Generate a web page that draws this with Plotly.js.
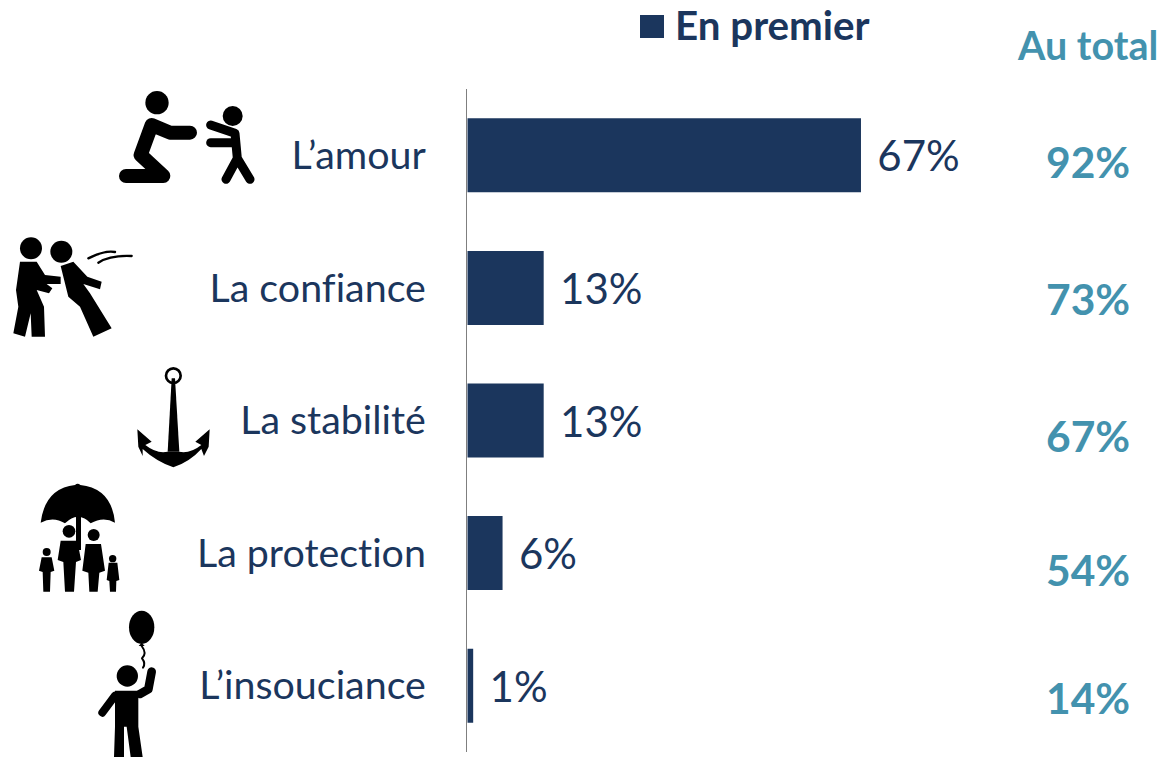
<!DOCTYPE html>
<html>
<head>
<meta charset="utf-8">
<script src="https://cdn.plot.ly/plotly-3.0.1.min.js"></script>
<style>html,body{margin:0;padding:0;background:#fff;overflow:hidden}#chart{width:1163px;height:757px}
svg text{font-variant-ligatures:none;font-feature-settings:"liga" 0,"clig" 0}</style>
</head>
<body>
<div id="chart"></div>
<script>
const categories = ["L’amour", "La confiance", "La stabilité", "La protection", "L’insouciance"];
const firstValues = [67, 13, 13, 6, 1];
const totalValues = [92, 73, 67, 54, 14];
const legendLabel = "En premier";
const totalLabel = "Au total";
const totalYPixels = [162, 298, 435, 569, 697];

const NAVY = "#1B365D", TEAL = "#4392AE";
const W = 1163, H = 757;
const px = v => v / W, py = v => 1 - v / H;
const M = {l: 467.3, r: 0, t: 89, b: 5};
const font = "Lato, 'Noto Sans', sans-serif";

function poly(pts){ return '<polygon points="' + pts + '"/>'; }
function limb(d, w){ return '<path d="' + d + '" fill="none" stroke="#000" stroke-width="' + w + '" stroke-linecap="round" stroke-linejoin="round"/>'; }
const iconsTop = [
  '<circle cx="471" cy="68" r="35"/>',
  limb("M570 158 L510 158 L455 135 L422 225 L490 288 L378 288", 42),
  '<circle cx="698" cy="108" r="30"/>',
  limb("M632 135 L705 160 L712 235 L678 298 M712 235 L750 298", 27),
  limb("M632 188 L695 188", 27),
  '<circle cx="93" cy="505" r="33"/><circle cx="184" cy="515" r="33"/>',
  poly("60,545 110,545 135,585 182,590 182,612 140,612 157,625 147,640 110,630 132,680 135,770 95,770 92,700 75,770 40,760 55,680 48,630"),
  poly("182,558 220,545 262,590 305,605 300,628 250,612 270,640 335,745 280,770 240,680 205,650"),
  '<path d="M265 535 Q315 510 345 516 M295 548 Q330 525 395 528" fill="none" stroke="#000" stroke-width="7" stroke-linecap="round"/>'
].join("");
const iconsBottom = [
  '<circle cx="520" cy="77" r="22" fill="none" stroke="#000" stroke-width="8"/>',
  poly("515,85 525,85 538,305 503,305"),
  '<path d="M412 238 L455 275 L436 285 Q470 312 503 305 L537 305 Q570 312 604 285 L586 275 L629 238 L626 290 L612 318 L604 297 Q570 335 520 352 Q470 335 428 297 L428 318 L415 290Z"/>',
  '<path d="M122 518 Q135 415 225 405 Q233 398 241 405 Q335 415 345 518 Q310 498 272 520 Q255 500 233 500 Q215 500 195 520 Q160 498 122 518Z"/>',
  '<rect x="228" y="495" width="15" height="105"/>',
  '<circle cx="207" cy="544" r="19"/><circle cx="281" cy="555" r="18"/><circle cx="140" cy="606" r="12"/><circle cx="338" cy="626" r="11"/>',
  poly("182,572 232,572 243,630 228,636 222,725 195,725 190,636 173,630"),
  poly("257,582 303,582 315,662 298,668 293,725 268,725 265,668 247,662"),
  poly("125,622 155,622 163,662 152,666 150,725 130,725 128,666 117,662"),
  poly("326,638 352,638 358,690 349,693 348,725 330,725 328,693 320,690"),
  '<ellipse cx="425" cy="832" rx="38" ry="50"/>',
  poly("425,878 434,888 416,888"),
  limb("M425 888 Q442 910 426 925 Q438 940 429 953", 6),
  '<circle cx="382" cy="978" r="32"/>',
  limb("M420 1032 L445 1018 L455 965", 26),
  limb("M345 1037 L307 1088", 24),
  poly("345,1022 415,1022 415,1130 428,1221 392,1221 380,1130 372,1130 372,1221 342,1221 345,1130")
].join("");
const iconSvg = '<svg xmlns="http://www.w3.org/2000/svg" width="' + W + '" height="' + H + '" viewBox="0 0 ' + W + ' ' + H + '">' +
  '<g transform="translate(0,80) scale(0.33333)">' + iconsTop + '</g>' +
  '<g transform="translate(0,350) scale(0.33333)">' + iconsBottom + '</g></svg>';

const trace = {
  type: "bar",
  orientation: "h",
  y: categories,
  x: firstValues,
  name: legendLabel,
  text: firstValues.map(v => "\u00A0\u200A" + v + "%"),
  textposition: "outside",
  cliponaxis: false,
  textfont: {family: font, size: 42, color: NAVY},
  marker: {color: NAVY},
  hoverinfo: "skip"
};

const annotations = totalValues.map((v, i) => ({
  xref: "paper", yref: "paper", x: px(1088), y: py(totalYPixels[i]),
  xanchor: "center", yanchor: "middle", showarrow: false,
  text: "<b>" + v + "%</b>", font: {family: font, size: 42.5, color: TEAL}
}));
annotations.push({
  xref: "paper", yref: "paper", x: px(1160), y: py(44), xanchor: "right", yanchor: "middle",
  showarrow: false, text: "<b>" + totalLabel + "</b>", font: {family: font, size: 39.5, color: TEAL}
});
annotations.push({
  xref: "paper", yref: "paper", x: px(673), y: py(24), xanchor: "left", yanchor: "middle",
  showarrow: false, text: "<b>" + legendLabel + "</b>", font: {family: font, size: 40.3, color: NAVY}
});

const layout = {
  width: W, height: H,
  margin: {l: 0, r: 0, t: 0, b: 0, pad: 0},
  paper_bgcolor: "#fff", plot_bgcolor: "#fff",
  font: {family: font, color: NAVY},
  showlegend: false,
  bargap: 0.442,
  xaxis: {domain: [M.l / W, 1], range: [0, 118.4], visible: false, fixedrange: true},
  yaxis: {
    domain: [M.b / H, 1 - M.t / H],
    autorange: "reversed",
    type: "category",
    anchor: "x",
    showline: true, linecolor: "#7F7F7F", linewidth: 1.5,
    showgrid: false, zeroline: false,
    ticks: "outside", ticklen: 32, tickcolor: "rgba(0,0,0,0)",
    tickfont: {family: font, size: 39.4, color: NAVY},
    automargin: false, fixedrange: true
  },
  shapes: [{
    type: "rect", xref: "paper", yref: "paper",
    x0: px(640), x1: px(664), y0: py(15), y1: py(38),
    fillcolor: NAVY, line: {width: 0}
  }],
  images: [{
    source: "data:image/svg+xml;charset=utf-8," + encodeURIComponent(iconSvg),
    xref: "paper", yref: "paper", x: 0, y: 1, sizex: 1, sizey: 1,
    xanchor: "left", yanchor: "top", sizing: "stretch", layer: "above"
  }],
  annotations: annotations
};

Plotly.newPlot("chart", [trace], layout, {displayModeBar: false, staticPlot: true});
</script>
</body>
</html>
